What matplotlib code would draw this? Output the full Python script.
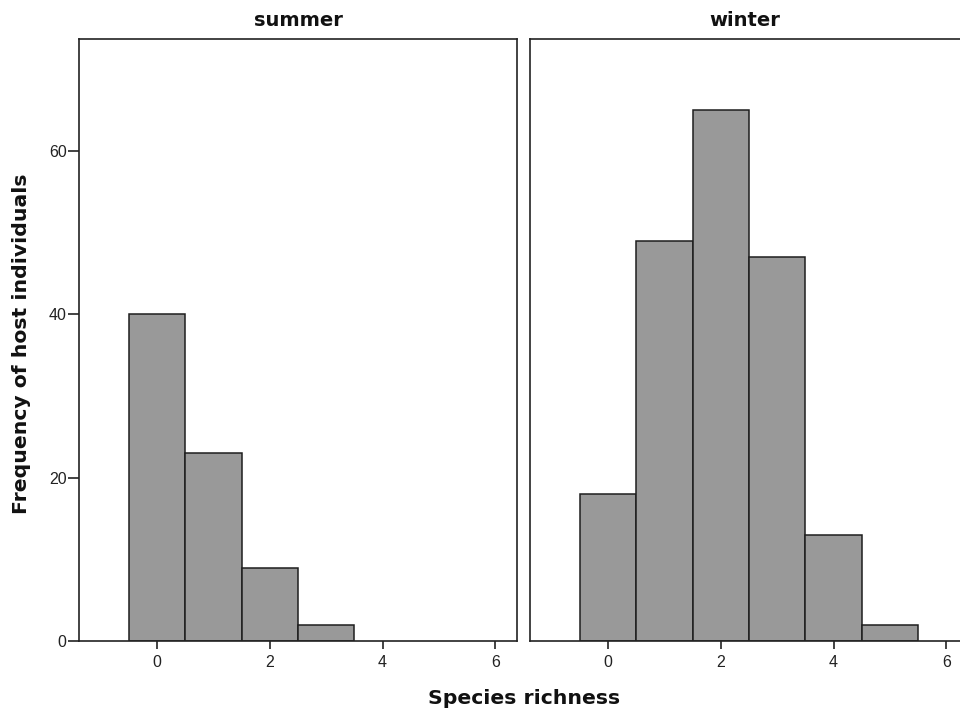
import matplotlib
matplotlib.use("Agg")
import matplotlib.pyplot as plt
import numpy as np

richness = [0, 1, 2, 3, 4, 5]
summer_counts = [40, 23, 9, 2, 0, 0]
winter_counts = [18, 49, 65, 47, 13, 2]
panel_titles = ["summer", "winter"]
xticks = [0, 2, 4, 6]
yticks = [0, 20, 40, 60]

W, H = 960, 713
fig = plt.figure(figsize=(W / 100, H / 100), dpi=100)

def fx(px):
    return px / W

def fy(py):
    return 1 - py / H

ax_w = fx(517.3 - 79)
ax_bottom = fy(641)
ax_h = (641 - 39.3) / H
ax1 = fig.add_axes([fx(79), ax_bottom, ax_w, ax_h])
ax2 = fig.add_axes([fx(530), ax_bottom, ax_w, ax_h])

bar_color = "#999999"
edge_color = "#1e1e1e"
tick_font = dict(family="Liberation Sans", size=11.5, color="#222222")

for ax, counts in zip([ax1, ax2], [summer_counts, winter_counts]):
    xs = [r for r, c in zip(richness, counts) if c > 0]
    hs = [c for c in counts if c > 0]
    ax.bar(xs, hs, width=1.0, color=bar_color, edgecolor=edge_color, linewidth=1.1, zorder=2)
    ax.set_xlim(-1.385, 6.39)
    ax.set_ylim(0, 73.7)
    ax.set_xticks(xticks)
    ax.set_xticklabels([str(t) for t in xticks], fontdict=tick_font)
    ax.tick_params(axis="x", direction="out", length=6, width=1.2, color="#222222", pad=4)
    for s in ax.spines.values():
        s.set_color("#222222")
        s.set_linewidth(1.2)

ax1.set_yticks(yticks)
ax1.set_yticklabels([str(t) for t in yticks], fontdict=tick_font)
ax1.tick_params(axis="y", direction="out", length=8, width=1.2, color="#222222", pad=1)
ax2.set_yticks([])

title_font = dict(family="DejaVu Sans", size=14, weight="bold", color="#111111")
fig.text(fx(298), fy(20), panel_titles[0], ha="center", va="center", **title_font)
fig.text(fx(745), fy(20), panel_titles[1], ha="center", va="center", **title_font)

label_font = dict(family="DejaVu Sans", size=14.7, weight="bold", color="#111111")
fig.text(fx(524), fy(699), "Species richness", ha="center", va="center", **label_font)
fig.text(fx(22), fy(344), "Frequency of host individuals", ha="center", va="center",
         rotation=90, **label_font)

fig.savefig("out.png", dpi=100)
